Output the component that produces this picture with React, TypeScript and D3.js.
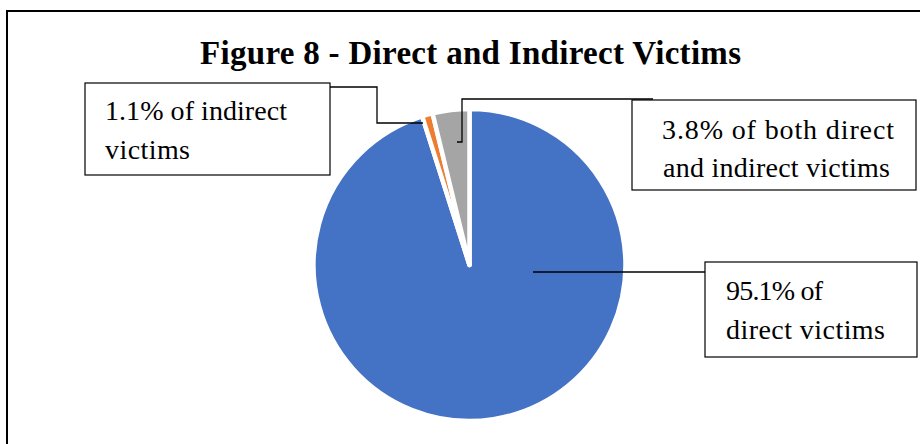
import React from "react";
import * as d3 from "d3";

const categories = ["direct victims", "indirect victims", "both direct and indirect victims"];
const values = [95.1, 1.1, 3.8];
const colors = ["#4472C4", "#ED7D31", "#A5A5A5"];
const labelLines = [
  ["95.1% of", "direct victims"],
  ["1.1% of indirect", "victims"],
  ["3.8% of both direct", "and indirect victims"],
];
const title = "Figure 8 - Direct and Indirect Victims";

const W = 920;
const H = 444;
const cx = 469.5;
const cy = 265;
const R = 156;
const FONT = "'Liberation Serif', 'Times New Roman', serif";

export default function App() {
  const data = categories.map((c, i) => ({ c, v: values[i], color: colors[i] }));
  const pie = d3
    .pie<any>()
    .sort(null)
    .value((d: any) => d.v)
    .startAngle(0)
    .endAngle(2 * Math.PI);
  const arcs = pie(data);
  const arc = d3.arc<any>().innerRadius(0).outerRadius(R);

  const labelFont = 28;
  const line = d3.line();

  return (
    <svg
      width={W}
      height={H}
      style={{ position: "absolute", left: 0, top: 0, background: "#fff" }}
      fontFamily={FONT}
    >
      <rect x={0} y={0} width={W} height={H} fill="#fff" />
      {/* outer chart border */}
      <rect x={7} y={11} width={W + 20} height={H + 20} fill="none" stroke="#000" strokeWidth={2} />
      <text x={200} y={64} fontWeight="bold" fontSize={33} fill="#000" textLength={541} lengthAdjust="spacing">
        {title}
      </text>
      <g transform={`translate(${cx},${cy})`}>
        {arcs.map((a, i) => (
          <path key={i} d={arc(a) as string} fill={a.data.color} stroke="#fff" strokeWidth={4.5} strokeLinejoin="round" />
        ))}
      </g>
      {/* leader lines */}
      <path d={line([[533, 272], [705, 272]]) as string} stroke="#000" strokeWidth={1.3} fill="none" />
      <path
        d={line([[330, 87], [377, 87], [377, 123], [423, 123]]) as string}
        stroke="#000"
        strokeWidth={1.3}
        fill="none"
      />
      <path
        d={line([[653, 99], [462, 99], [462, 142], [457, 142]]) as string}
        stroke="#000"
        strokeWidth={1.3}
        fill="none"
      />
      {/* label boxes */}
      <rect x={705} y={262} width={212} height={95} fill="#fff" stroke="#000" strokeWidth={1.2} />
      <rect x={85} y={83} width={245} height={92} fill="#fff" stroke="#000" strokeWidth={1.2} />
      <rect x={632} y={100} width={284} height={90} fill="#fff" stroke="#000" strokeWidth={1.2} />
      <g fontSize={labelFont} fill="#000">
        <text x={726} y={300} textLength={97} lengthAdjust="spacing">{labelLines[0][0]}</text>
        <text x={726} y={339} textLength={159} lengthAdjust="spacing">{labelLines[0][1]}</text>
        <text x={105} y={120} textLength={182} lengthAdjust="spacing">{labelLines[1][0]}</text>
        <text x={105} y={159} textLength={85} lengthAdjust="spacing">{labelLines[1][1]}</text>
        <text x={662} y={139} textLength={232} lengthAdjust="spacing">{labelLines[2][0]}</text>
        <text x={663} y={177} textLength={227} lengthAdjust="spacing">{labelLines[2][1]}</text>
      </g>
    </svg>
  );
}
